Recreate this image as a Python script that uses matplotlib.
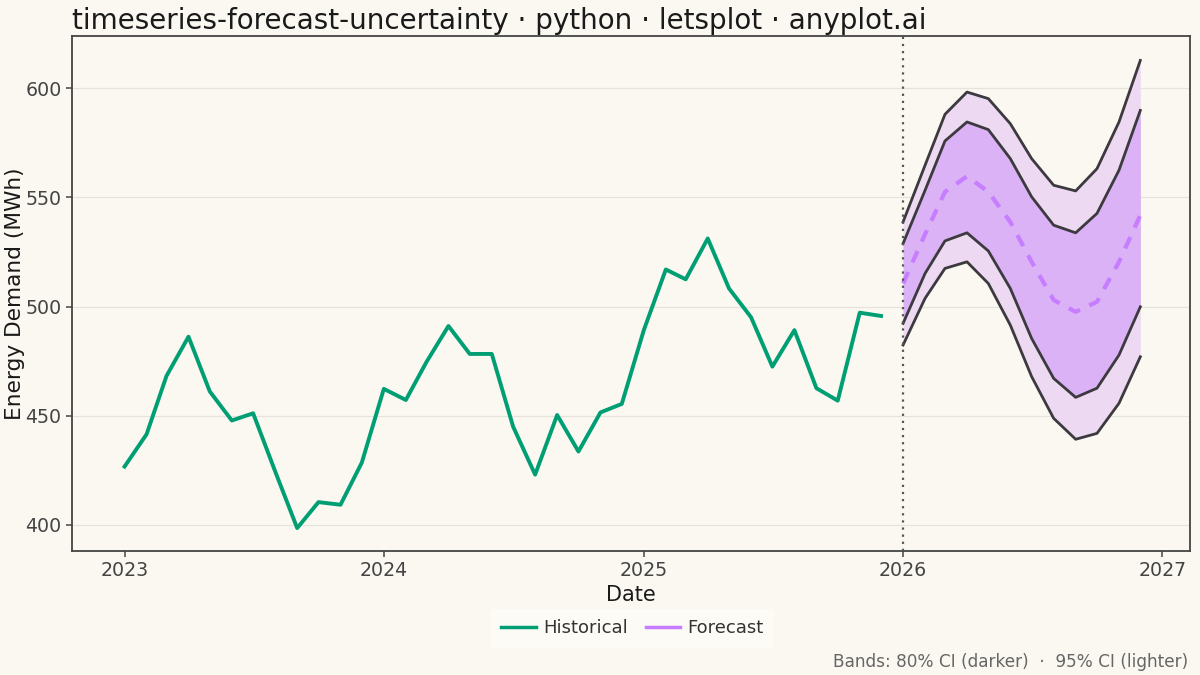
import numpy as np
import pandas as pd
import matplotlib
matplotlib.use("Agg")
import matplotlib.pyplot as plt
import matplotlib.dates as mdates
from matplotlib.lines import Line2D

# Historical monthly energy demand (MWh), Jan 2023 - Dec 2025
hist_dates = pd.date_range("2023-01-01", periods=36, freq="MS")
hist_values = [
    426.7, 441.5, 468.2, 486.2, 461.1, 447.8, 451.1, 424.5, 398.5, 410.4, 409.2, 428.5,
    462.3, 457.2, 474.6, 491.1, 478.3, 478.3, 445.0, 423.0, 450.3, 433.6, 451.5, 455.4,
    489.2, 517.0, 512.5, 531.2, 508.3, 495.1, 472.5, 489.2, 462.6, 456.9, 497.2, 495.7,
]

# Forecast Jan 2026 - Dec 2026
fc_dates = pd.date_range("2026-01-01", periods=12, freq="MS")
fc_mean = [510.6, 533.2, 552.6, 559.7, 552.6, 538.8, 520.5, 503.0, 497.6, 502.2, 520.5, 541.9]
lo80 = [492.3, 515.2, 530.1, 533.8, 525.5, 508.3, 485.4, 467.1, 458.4, 462.6, 477.8, 499.9]
hi80 = [528.9, 553.3, 575.9, 584.6, 581.1, 567.8, 550.3, 537.3, 533.8, 542.7, 562.5, 589.9]
lo95 = [482.4, 503.8, 517.5, 520.5, 510.6, 491.5, 467.9, 448.8, 439.2, 441.9, 455.7, 477.0]
hi95 = [538.8, 564.8, 588.1, 598.3, 595.3, 583.8, 567.8, 555.6, 553.0, 563.2, 584.6, 612.8]

bg = "#FAF8F1"
green = "#009E73"
purple = "#C77DFF"
outline = "#3C3A3E"

fig = plt.figure(figsize=(12, 6.75), dpi=100, facecolor=bg)
ax = fig.add_axes([0.06, 0.1837, 0.9317, 0.763])
ax.set_facecolor(bg)

# uncertainty bands
ax.fill_between(fc_dates, lo95, hi95, color="#EDDAF2", lw=0, zorder=1)
ax.fill_between(fc_dates, lo80, hi80, color="#DAB2F5", lw=0, zorder=2)
for s in (lo95, hi95, lo80, hi80):
    ax.plot(fc_dates, s, color=outline, lw=2, zorder=3)

ax.plot(fc_dates, fc_mean, color=purple, lw=3, ls=(0, (3, 2.5)), zorder=4)
ax.plot(hist_dates, hist_values, color=green, lw=2.8, zorder=4)

ax.axvline(pd.Timestamp("2026-01-01"), color="#555555", lw=1.6, ls=(0, (1, 2.2)), zorder=5)

ax.set_xlim(pd.Timestamp("2022-10-19"), pd.Timestamp("2027-02-09"))
ax.set_ylim(388, 624)
ax.set_yticks([400, 450, 500, 550, 600])
ax.xaxis.set_major_locator(mdates.YearLocator())
ax.xaxis.set_major_formatter(mdates.DateFormatter("%Y"))

ax.grid(axis="y", color="#E6E3DC", lw=0.9, zorder=0)
ax.set_axisbelow(True)
for sp in ax.spines.values():
    sp.set_color("#444444")
    sp.set_linewidth(1.3)
ax.tick_params(colors="#444444", labelsize=13.7, length=4, width=1.1)

ax.set_xlabel("Date", fontsize=15, color="#1a1a1a", labelpad=3)
ax.set_ylabel("Energy Demand (MWh)", fontsize=15.6, color="#1a1a1a")
ax.yaxis.set_label_coords(-0.042, 0.5)
ax.set_title("timeseries-forecast-uncertainty · python · letsplot · anyplot.ai",
             loc="left", fontsize=20, color="#1a1a1a", pad=5)

handles = [Line2D([0], [0], color=green, lw=2.5), Line2D([0], [0], color=purple, lw=2.5)]
leg = fig.legend(handles, ["Historical", "Forecast"], loc="center", bbox_to_anchor=(0.527, 0.069),
                 ncol=2, frameon=True, fontsize=13, handlelength=1.9, columnspacing=1.0,
                 handletextpad=0.4, borderpad=0.6)
leg.get_frame().set_facecolor("#FFFDF8")
leg.get_frame().set_edgecolor("none")
for t in leg.get_texts():
    t.set_color("#333333")

fig.text(0.99, 0.019, "Bands: 80% CI (darker)  ·  95% CI (lighter)", ha="right", va="center",
         fontsize=12.2, color="#666666")

fig.savefig("out.png", dpi=100, facecolor=bg)
